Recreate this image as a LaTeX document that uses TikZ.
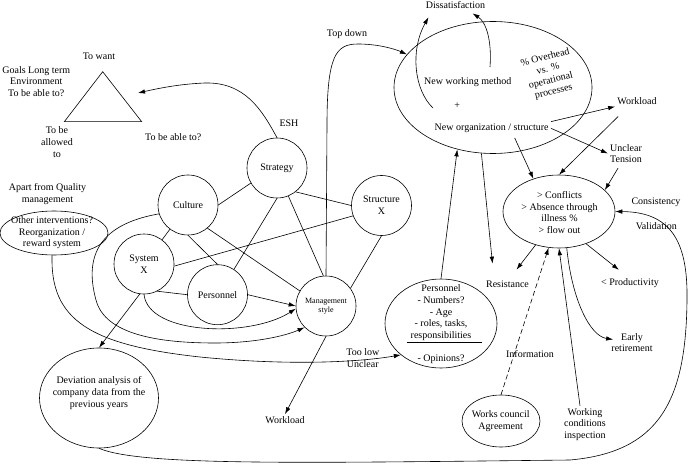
\documentclass[tikz,border=0pt]{standalone}
\usepackage{fontspec}
\setmainfont{Liberation Serif}
\usepackage{tikz}
\usetikzlibrary{shapes.geometric,arrows.meta,calc}

\begin{document}
\begin{tikzpicture}[x=1pt,y=-1pt,line width=0.6pt,
    >={Latex[length=7pt,width=4.5pt]},
    font=\fontsize{10}{11.7}\selectfont,
    circ/.style={circle,draw,minimum size=60pt,inner sep=0pt,align=center},
    oval/.style={ellipse,draw,inner sep=0pt},
    txt/.style={align=center,inner sep=2pt}]
      \useasboundingbox (0,0) rectangle (688,465);
      \coordinate (tritop) at (102.7,71.7);
      \coordinate (trileft) at (64.3,121.7);
      \coordinate (triright) at (141.7,121.7);
      \coordinate (trigoal) at (138,93);
      \draw (tritop) -- (trileft) -- (triright) -- cycle;
      \node[txt] (towant) at (99,56.7) {To want};
      \node[txt] (goals) at (36.3,81.5) {Goals Long term\\Environment\\To be able to?};
      \node[txt] (allowed) at (57,142) {To be\\allowed\\to};
      \node[txt] (ableto) at (173.3,137.3) {To be able to?};
      \node[txt] (esh) at (289,123.3) {ESH};
      \node[txt] (apart) at (47.5,194.2) {Apart from Quality\\management};
      \node[oval,minimum width=108pt,minimum height=44pt] (other) at (54,233) {};
      \node[txt] (othertxt) at (52,232.8) {Other interventions?\\Reorganization /\\reward system};

      \node[circ] (strat) at (277,168) {Strategy};
      \node[circ] (cult) at (188,205) {Culture};
      \node[circ] (struct) at (381.5,205.5) {Structure\\X};
      \node[circ] (sysx) at (144,264) {System\\X};
      \node[circ] (pers) at (217.5,294.7) {Personnel};
      \node[circ,font=\fontsize{8}{9.3}\selectfont] (mgmt) at (326,306) {Management\\style};

      \draw (cult.east) -- (strat.210);
      \draw (cult) -- (sysx);
      \draw (cult.south) -- (pers.north);
      \draw (cult.-50) -- (mgmt.150);
      \draw (strat.south) -- (pers.57);
      \draw (strat.-68) -- (mgmt.95);
      \draw (strat.-52) -- (struct.180);
      \draw (struct.200) -- (sysx.-4);
      \draw (struct.south) -- (mgmt.36);
      \draw (sysx.-64) -- (pers.west);
      \draw[->] (pers.east) -- (mgmt.west);
      \draw[->] (sysx.south) .. controls (148,335) and (250,338) .. (mgmt.185);
      \draw[->] (cult.197) .. controls (95,225) and (85,260) .. (96,300)
        .. controls (105,335) and (160,343) .. (215,343)
        .. controls (255,343) and (285,336) .. (mgmt.225);
      \draw[->] (strat.north) .. controls (262,110) and (245,82) .. (205,83)
        .. controls (180,84) and (160,88) .. (trigoal);

      \node[oval,minimum width=119pt,minimum height=100pt] (devi) at (99,398) {};
      \node[txt] (devitxt) at (99,393) {Deviation analysis of\\company data from the\\previous years};
      \draw[->] (sysx.262) -- (devi.north);
      \node[txt] (wl2) at (285,420) {Workload};
      \draw[->] (mgmt.south) -- (wl2.north);

      \node[oval,minimum width=198pt,minimum height=132pt] (newwork) at (493,87.5) {};
      \node[txt] (newmeth) at (467.8,81.7) {New working method};
      \node[txt] (plus) at (457.3,105.3) {+};
      \node[txt] (neworg) at (491.7,128.3) {New organization / structure};
      \node[txt,rotate=14] (ovh) at (549.5,75) {\% Overhead\\vs. \%\\operational\\processes};
      \coordinate (nwa) at (433,108);
      \coordinate (nwb) at (490,67);
      \node[txt] (topdown) at (347,34.3) {Top down};
      \node[txt] (dissat) at (455.5,5) {Dissatisfaction};
      \draw[->] (mgmt.north) -- (327,125) .. controls (327,55) and (336,44) .. (358,44)
        .. controls (378,44) and (395,49) .. (newwork.159);
      \draw[->] (nwa) .. controls (414,90) and (410,50) .. ([shift={(5,6.5)}]dissat.south west);
      \draw[->] (nwb) .. controls (492,40) and (486,22) .. ([shift={(-15,2.5)}]dissat.south east);

      \node[txt] (wl1) at (637,100.7) {Workload};
      \node[txt] (unclear) at (626,153.5) {Unclear\\Tension};
      \node[oval,minimum width=112pt,minimum height=73pt] (confl) at (559,211.5) {};
      \node[txt] (confltxt) at (559.5,212.5) {> Conflicts\\> Absence through\\illness \%\\> flow out};
      \node[txt] (consist) at (656,202.7) {Consistency};
      \node[txt] (valid) at (656.3,226) {Validation};
      \node[txt] (resist) at (507.5,284.3) {Resistance};
      \node[txt] (prod) at (630,282.7) {< Productivity};
      \node[txt] (early) at (632,342.5) {Early\\retirement};
      \draw[->] (neworg.north east) -- (wl1.south west);
      \draw[->] (neworg.east) -- (unclear.west);
      \draw[->] ([shift={(3,10)}]wl1.south west) -- (confl.north);
      \draw[->] ([shift={(-8,3)}]unclear.south) -- (confl.25);
      \draw[->] ([shift={(23,3)}]neworg.south) -- (confl.128);
      \draw[->] (newwork.260) -- ([shift={(-15,-15)}]resist.north);
      \draw[->] (confl.235) -- ([shift={(9,-9)}]resist.north);
      \draw[->] (confl.-50) -- ([shift={(20,-6)}]prod.north west);
      \draw[->] (confl.-78) .. controls (572,300) and (590,336) .. ([shift={(4,-3)}]early.west);

      \node[oval,minimum width=112pt,minimum height=89pt] (perso) at (441,323.5) {};
      \node[txt] (perstxt) at (441,324.3) {Personnel\\- Numbers?\\- Age\\- roles, tasks,\\responsibilities\\[11.7pt]- Opinions?};
      \draw ([shift={(-34.3,19.2)}]perso.center) -- ([shift={(40.7,19.2)}]perso.center);
      \draw[->] (perso.north) -- (newwork.240);
      \node[txt] (toolow) at (362.8,358.3) {Too low\\Unclear};
      \draw[->] (other.265) .. controls (50,320) and (90,345) .. (200,357)
        .. controls (290,366) and (360,362) .. (perso.218);

      \node[oval,minimum width=78pt,minimum height=52pt] (works) at (501,421) {};
      \node[txt] (workstxt) at (500.7,421.2) {Works council\\Agreement};
      \node[txt] (info) at (530,354.3) {Information};
      \draw[dash pattern=on 5pt off 3pt,->] (works.north) -- (confl.254);
      \node[txt] (workcond) at (585,424.3) {Working\\conditions\\inspection};
      \draw[->] ([xshift=-5pt]workcond.north) -- (confl.south);

      \draw[->] (devi.south) .. controls (140,466) and (300,463) .. (570,460)
        .. controls (660,452) and (686,400) .. (687,300)
        .. controls (688,240) and (670,212) .. (confl.east);
\end{tikzpicture}
\end{document}
